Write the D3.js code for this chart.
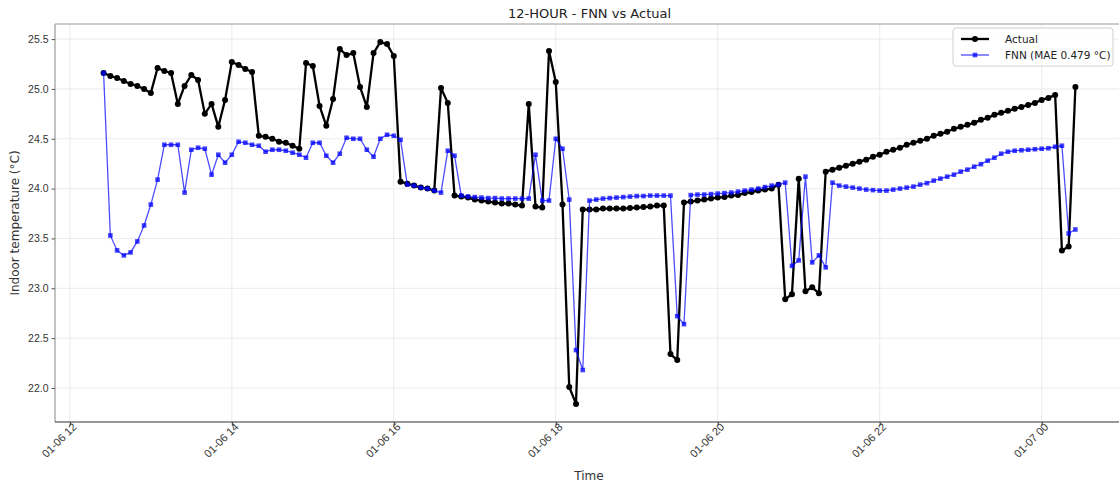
<!DOCTYPE html>
<html>
<head>
<meta charset="utf-8">
<script src="https://cdn.jsdelivr.net/npm/d3@7"></script>
<style>
  html, body { margin: 0; padding: 0; background: #fff; }
  svg { display: block; font-family: "DejaVu Sans", sans-serif; }
</style>
</head>
<body>
<svg id="chart" width="1119" height="483"></svg>
<script>
// 5-minute samples, 12:25 on 01-06 through 00:25 on 01-07
const startTime = new Date(2024, 0, 6, 12, 25);
const stepMinutes = 5;

const actualTemp = [
  25.16, 25.13, 25.11, 25.08, 25.05, 25.03, 25.00, 24.96, 25.21, 25.18,
  25.16, 24.85, 25.03, 25.14, 25.09, 24.75, 24.85, 24.62, 24.89, 25.27,
  25.24, 25.20, 25.17, 24.53, 24.52, 24.50, 24.47, 24.46, 24.43, 24.40,
  25.26, 25.23, 24.83, 24.63, 24.90, 25.40, 25.34, 25.36, 25.02, 24.82,
  25.36, 25.47, 25.45, 25.33, 24.07, 24.05, 24.03, 24.01, 24.00, 23.98,
  25.01, 24.86, 23.93, 23.92, 23.91, 23.89, 23.88, 23.87, 23.86, 23.85,
  23.85, 23.84, 23.83, 24.85, 23.82, 23.81, 25.38, 25.07, 23.84, 22.01,
  21.84, 23.79, 23.79, 23.79, 23.80, 23.80, 23.80, 23.80, 23.805, 23.81,
  23.815, 23.82, 23.83, 23.83, 22.34, 22.28, 23.86, 23.87, 23.88, 23.89,
  23.90, 23.91, 23.915, 23.93, 23.935, 23.955, 23.965, 23.98, 23.99, 24.00,
  24.04, 22.89, 22.94, 24.10, 22.97, 23.01, 22.95, 24.17, 24.19, 24.21,
  24.23, 24.25, 24.27, 24.29, 24.32, 24.34, 24.37, 24.39, 24.41, 24.44,
  24.46, 24.48, 24.50, 24.53, 24.55, 24.57, 24.60, 24.62, 24.64, 24.66,
  24.69, 24.71, 24.74, 24.76, 24.78, 24.80, 24.82, 24.84, 24.86, 24.89,
  24.91, 24.94, 23.38, 23.42, 25.02
];

const fnnTemp = [
  25.16, 23.53, 23.38, 23.33, 23.36, 23.47, 23.63, 23.84, 24.09, 24.44,
  24.44, 24.44, 23.96, 24.39, 24.41, 24.40, 24.14, 24.34, 24.26, 24.34,
  24.47, 24.46, 24.44, 24.43, 24.37, 24.39, 24.39, 24.38, 24.36, 24.34,
  24.31, 24.46, 24.46, 24.33, 24.26, 24.35, 24.51, 24.50, 24.50, 24.39,
  24.32, 24.50, 24.54, 24.53, 24.49, 24.04, 24.03, 24.01, 24.00, 23.98,
  23.96, 24.38, 24.33, 23.93, 23.92, 23.915, 23.91, 23.905, 23.905, 23.90,
  23.90, 23.90, 23.90, 23.90, 24.34, 23.88, 23.88, 24.50, 24.40, 23.89,
  22.38, 22.18, 23.88, 23.89, 23.90, 23.905, 23.91, 23.915, 23.92, 23.925,
  23.925, 23.93, 23.93, 23.93, 23.93, 22.72, 22.64, 23.935, 23.94, 23.94,
  23.945, 23.95, 23.955, 23.96, 23.97, 23.98, 23.99, 24.00, 24.015, 24.03,
  24.04, 24.06, 23.225, 23.28, 24.12, 23.26, 23.33, 23.21, 24.06, 24.03,
  24.02, 24.01, 24.00, 23.99, 23.985, 23.98, 23.98, 23.99, 24.00, 24.01,
  24.02, 24.04, 24.055, 24.08, 24.10, 24.12, 24.14, 24.17, 24.19, 24.22,
  24.245, 24.28, 24.31, 24.35, 24.37, 24.38, 24.385, 24.39, 24.395, 24.40,
  24.405, 24.42, 24.43, 23.55, 23.59
];

const yTicks = [22.0, 22.5, 23.0, 23.5, 24.0, 24.5, 25.0, 25.5];
const seriesNames = ["Actual", "FNN (MAE 0.479 °C)"];
const titleText = "12-HOUR - FNN vs Actual";
const xLabel = "Time";
const yLabel = "Indoor temperature (°C)";

const times = actualTemp.map((_, i) => d3.timeMinute.offset(startTime, i * stepMinutes));
const actualData = actualTemp.map((v, i) => ({ t: times[i], v }));
const fnnData = fnnTemp.map((v, i) => ({ t: times[i], v }));

const plot = { left: 55, top: 24, right: 1124, bottom: 422 };
const svg = d3.select("#chart");

// 5% padding on both axes
const tExt = d3.extent(times);
const tPad = (tExt[1] - tExt[0]) * 0.05;
const x = d3.scaleTime()
  .domain([new Date(+tExt[0] - tPad), new Date(+tExt[1] + tPad)])
  .range([plot.left, plot.right]);

const allVals = actualTemp.concat(fnnTemp);
const vMin = d3.min(allVals), vMax = d3.max(allVals);
const vPad = (vMax - vMin) * 0.05;
const y = d3.scaleLinear()
  .domain([vMin - vPad, vMax + vPad])
  .range([plot.bottom, plot.top]);

const xTickVals = x.ticks(d3.timeHour.every(2));
const fmt = d3.timeFormat("%m-%d %H");

// grid
const grid = svg.append("g");
grid.selectAll("line.gx").data(xTickVals).join("line")
  .attr("x1", d => x(d)).attr("x2", d => x(d))
  .attr("y1", plot.top).attr("y2", plot.bottom)
  .attr("stroke", "#ebebeb").attr("stroke-width", 1);
grid.selectAll("line.gy").data(yTicks).join("line")
  .attr("x1", plot.left).attr("x2", plot.right)
  .attr("y1", d => y(d)).attr("y2", d => y(d))
  .attr("stroke", "#ebebeb").attr("stroke-width", 1);

// spines
svg.append("line").attr("x1", plot.left).attr("x2", plot.right)
  .attr("y1", plot.top).attr("y2", plot.top).attr("stroke", "#9a9a9a").attr("stroke-width", 1);
svg.append("line").attr("x1", plot.left).attr("x2", plot.left)
  .attr("y1", plot.top).attr("y2", plot.bottom).attr("stroke", "#9a9a9a").attr("stroke-width", 1.2);
svg.append("line").attr("x1", plot.left).attr("x2", plot.right)
  .attr("y1", plot.bottom).attr("y2", plot.bottom).attr("stroke", "#333").attr("stroke-width", 1.2);

// y axis
const yAxis = svg.append("g")
  .attr("transform", `translate(${plot.left},0)`)
  .call(d3.axisLeft(y).tickValues(yTicks).tickFormat(d3.format(".1f")).tickSize(3.5).tickPadding(3));
yAxis.select(".domain").remove();
yAxis.selectAll(".tick line").attr("stroke", "#555");
yAxis.selectAll(".tick text").attr("fill", "#333").style("font-size", "10.5px");

// x axis
const xAxis = svg.append("g")
  .attr("transform", `translate(0,${plot.bottom})`)
  .call(d3.axisBottom(x).tickValues(xTickVals).tickFormat(fmt).tickSize(3.5));
xAxis.select(".domain").remove();
xAxis.selectAll(".tick line").attr("stroke", "#333");
xAxis.selectAll(".tick text")
  .attr("fill", "#333").style("font-size", "11px")
  .attr("text-anchor", "end")
  .attr("x", 1).attr("y", 5).attr("dy", "0.35em")
  .attr("transform", "rotate(-45)");

// series
const line = d3.line().x(d => x(d.t)).y(d => y(d.v));

svg.append("path").datum(actualData)
  .attr("d", line).attr("fill", "none")
  .attr("stroke", "#000").attr("stroke-width", 2.3).attr("stroke-linejoin", "round");
svg.append("g").selectAll("circle").data(actualData).join("circle")
  .attr("cx", d => x(d.t)).attr("cy", d => y(d.v)).attr("r", 3).attr("fill", "#000");

svg.append("path").datum(fnnData)
  .attr("d", line).attr("fill", "none")
  .attr("stroke", "#0000ff").attr("stroke-opacity", 0.7).attr("stroke-width", 1.3);
svg.append("g").selectAll("rect").data(fnnData).join("rect")
  .attr("x", d => x(d.t) - 2.3).attr("y", d => y(d.v) - 2.3)
  .attr("width", 4.6).attr("height", 4.6)
  .attr("fill", "#0000ff").attr("fill-opacity", 0.75);

// title and axis labels
svg.append("text").attr("x", (plot.left + plot.right) / 2).attr("y", 18)
  .attr("text-anchor", "middle").attr("fill", "#222").style("font-size", "13px").text(titleText);
svg.append("text").attr("x", 589).attr("y", 480)
  .attr("text-anchor", "middle").attr("fill", "#333").style("font-size", "12px").text(xLabel);
svg.append("text")
  .attr("transform", `translate(19,${(plot.top + plot.bottom) / 2}) rotate(-90)`)
  .attr("text-anchor", "middle").attr("fill", "#333").style("font-size", "12px").text(yLabel);

// legend
const lg = svg.append("g").attr("transform", "translate(953,28)");
lg.append("rect").attr("width", 160).attr("height", 38).attr("rx", 3)
  .attr("fill", "#fff").attr("fill-opacity", 0.85).attr("stroke", "#d0d0d0");
const l1 = lg.append("g").attr("transform", "translate(0,11)");
l1.append("line").attr("x1", 8).attr("x2", 36).attr("stroke", "#000").attr("stroke-width", 2.3);
l1.append("circle").attr("cx", 22).attr("r", 3).attr("fill", "#000");
l1.append("text").attr("x", 52).attr("dy", "0.35em").style("font-size", "10.5px").attr("fill", "#222").text(seriesNames[0]);
const l2 = lg.append("g").attr("transform", "translate(0,27)");
l2.append("line").attr("x1", 8).attr("x2", 36).attr("stroke", "#0000ff").attr("stroke-opacity", 0.7).attr("stroke-width", 1.3);
l2.append("rect").attr("x", 22 - 2.3).attr("y", -2.3).attr("width", 4.6).attr("height", 4.6).attr("fill", "#0000ff").attr("fill-opacity", 0.75);
l2.append("text").attr("x", 52).attr("dy", "0.35em").style("font-size", "10.5px").attr("fill", "#222").text(seriesNames[1]);
</script>
</body>
</html>
